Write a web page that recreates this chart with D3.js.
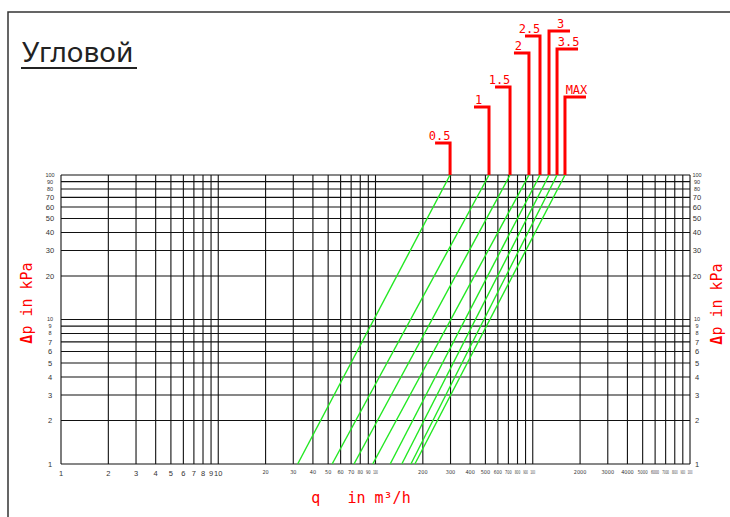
<!DOCTYPE html>
<html>
<head>
<meta charset="utf-8">
<script src="https://cdn.jsdelivr.net/npm/d3@7"></script>
<style>
  body { margin: 0; background: #fff; }
  svg { display: block; }
  text { white-space: pre; }
</style>
</head>
<body>
<svg id="graph" width="730" height="517"></svg>
<script>
// flow axis ticks (q) and pressure axis ticks (dp, kPa)
var xTicks = [1, 2, 3, 4, 5, 6, 7, 8, 9, 10,
    20, 30, 40, 50, 60, 70, 80, 90, 100,
    200, 300, 400, 500, 600, 700, 800, 900, 1000,
    2000, 3000, 4000, 5000, 6000, 7000, 8000, 9000, 10000];
var yTicks = [1, 2, 3, 4, 5, 6, 7, 8, 9, 10,
    20, 30, 40, 50, 60, 70, 80, 90, 100];

// valve openings and their flow at 1 kPa and at 100 kPa
var openings = ["0.5", "1", "1.5", "2", "2.5", "3", "3.5", "MAX"];
var qAt1 = [32, 53, 73, 96, 124, 147, 168, 178];
var qAt100 = [298, 527, 717, 946, 1112, 1269, 1427, 1603];

(function() {
    var svg = d3.select("#graph");

    var x = d3.scaleLog().domain([1, 10000]).range([61, 690]);
    var y = d3.scaleLog().domain([1, 100]).range([464, 175]);

    // page frame
    svg.append("path")
        .attr("d", "M8,520V12H740")
        .attr("fill", "none")
        .attr("stroke", "#333")
        .attr("stroke-width", 1.5);

    // title
    svg.append("text")
        .attr("x", 22).attr("y", 62)
        .attr("font-family", "Noto Sans")
        .attr("font-size", 28)
        .attr("fill", "#222")
        .text("Угловой");
    svg.append("line")
        .attr("x1", 21).attr("x2", 137)
        .attr("y1", 68).attr("y2", 68)
        .attr("stroke", "#222").attr("stroke-width", 2.2);

    // grid
    var grid = svg.append("g").attr("stroke", "#111").attr("stroke-width", 1.1);
    grid.selectAll(".gx").data(xTicks).join("line")
        .attr("x1", d => x(d)).attr("x2", d => x(d))
        .attr("y1", y(1)).attr("y2", y(100));
    grid.selectAll(".gy").data(yTicks).join("line")
        .attr("y1", d => y(d)).attr("y2", d => y(d))
        .attr("x1", x(1)).attr("x2", x(10000));

    // room (px) to the nearest neighbouring tick, used to squeeze crowded labels
    var xGap = xTicks.map((d, i) => Math.min(
        i > 0 ? x(d) - x(xTicks[i - 1]) : 99,
        i < xTicks.length - 1 ? x(xTicks[i + 1]) - x(d) : 99));
    var yGap = yTicks.map((d, i) => Math.min(
        i > 0 ? y(yTicks[i - 1]) - y(d) : 99,
        i < yTicks.length - 1 ? y(d) - y(yTicks[i + 1]) : 99));

    // y tick labels both sides
    var lab = svg.append("g")
        .attr("font-family", "Liberation Sans")
        .attr("fill", "#333")
        .attr("text-anchor", "middle");
    [50, 697].forEach(function(px) {
        lab.append("g").selectAll("text").data(yTicks).join("text")
            .attr("x", px).attr("y", d => y(d)).attr("dy", "0.35em")
            .attr("font-size", (d, i) => yGap[i] < 8 ? 5.5 : 7.5)
            .text(d => d);
    });

    // x tick labels
    lab.append("g").selectAll("text").data(xTicks).join("text")
        .attr("x", d => x(d))
        .attr("y", d => d <= 10 ? 476 : 474)
        .attr("font-size", d => d <= 10 ? 7.5 : 5.5)
        .attr("font-family", d => d <= 10 ? "Liberation Sans" : "DejaVu Sans Condensed")
        .each(function(d, i) {
            if (d <= 10) return;
            var w = String(d).length * 3.2;
            if (w > xGap[i] - 2) {
                d3.select(this)
                    .attr("textLength", Math.max(xGap[i] - 2.5, 3))
                    .attr("lengthAdjust", "spacingAndGlyphs");
            }
        })
        .text(d => d);

    // flow lines
    svg.append("g").selectAll("line").data(openings).join("line")
        .attr("x1", (d, i) => x(qAt1[i])).attr("y1", y(1))
        .attr("x2", (d, i) => x(qAt100[i])).attr("y2", y(100))
        .attr("stroke", "#22e822").attr("stroke-width", 1.4);

    // opening markers
    var markerTop = [143, 107, 87, 53, 36, 31, 49, 97];
    var red = "#ff0000";
    var mk = svg.append("g").attr("fill", "none").attr("stroke", red).attr("stroke-width", 3);
    var labs = svg.append("g")
        .attr("font-family", "DejaVu Sans Mono")
        .attr("font-size", 12)
        .attr("fill", red)
        .attr("text-anchor", "middle");
    openings.forEach(function(o, i) {
        var px = x(qAt100[i]);
        var top = markerTop[i];
        var left = i < 5;
        var len = left ? 15 : 21;
        var ex = left ? px - len : px + len;
        mk.append("path")
            .attr("d", `M${px},${y(100)}V${top}H${ex}`);
        labs.append("text")
            .attr("x", left ? px - len / 2 - 3 : px + len / 2 + 1)
            .attr("y", top - 3)
            .text(o);
    });

    // axis titles
    function dpTitle(tx, ty) {
        var t = svg.append("text")
            .attr("transform", `translate(${tx},${ty}) rotate(-90)`)
            .attr("text-anchor", "middle")
            .attr("font-family", "DejaVu Sans Mono")
            .attr("font-size", 15)
            .attr("fill", red);
        t.append("tspan").attr("font-weight", "bold").text("Δ");
        t.append("tspan").text("p in kPa");
    }
    dpTitle(32, 303);
    dpTitle(722, 304);
    svg.append("text")
        .attr("x", 361).attr("y", 503)
        .attr("text-anchor", "middle")
        .attr("font-family", "DejaVu Sans Mono")
        .attr("font-size", 15)
        .attr("fill", red)
        .text("q   in m³/h");
})();
</script>
</body>
</html>
